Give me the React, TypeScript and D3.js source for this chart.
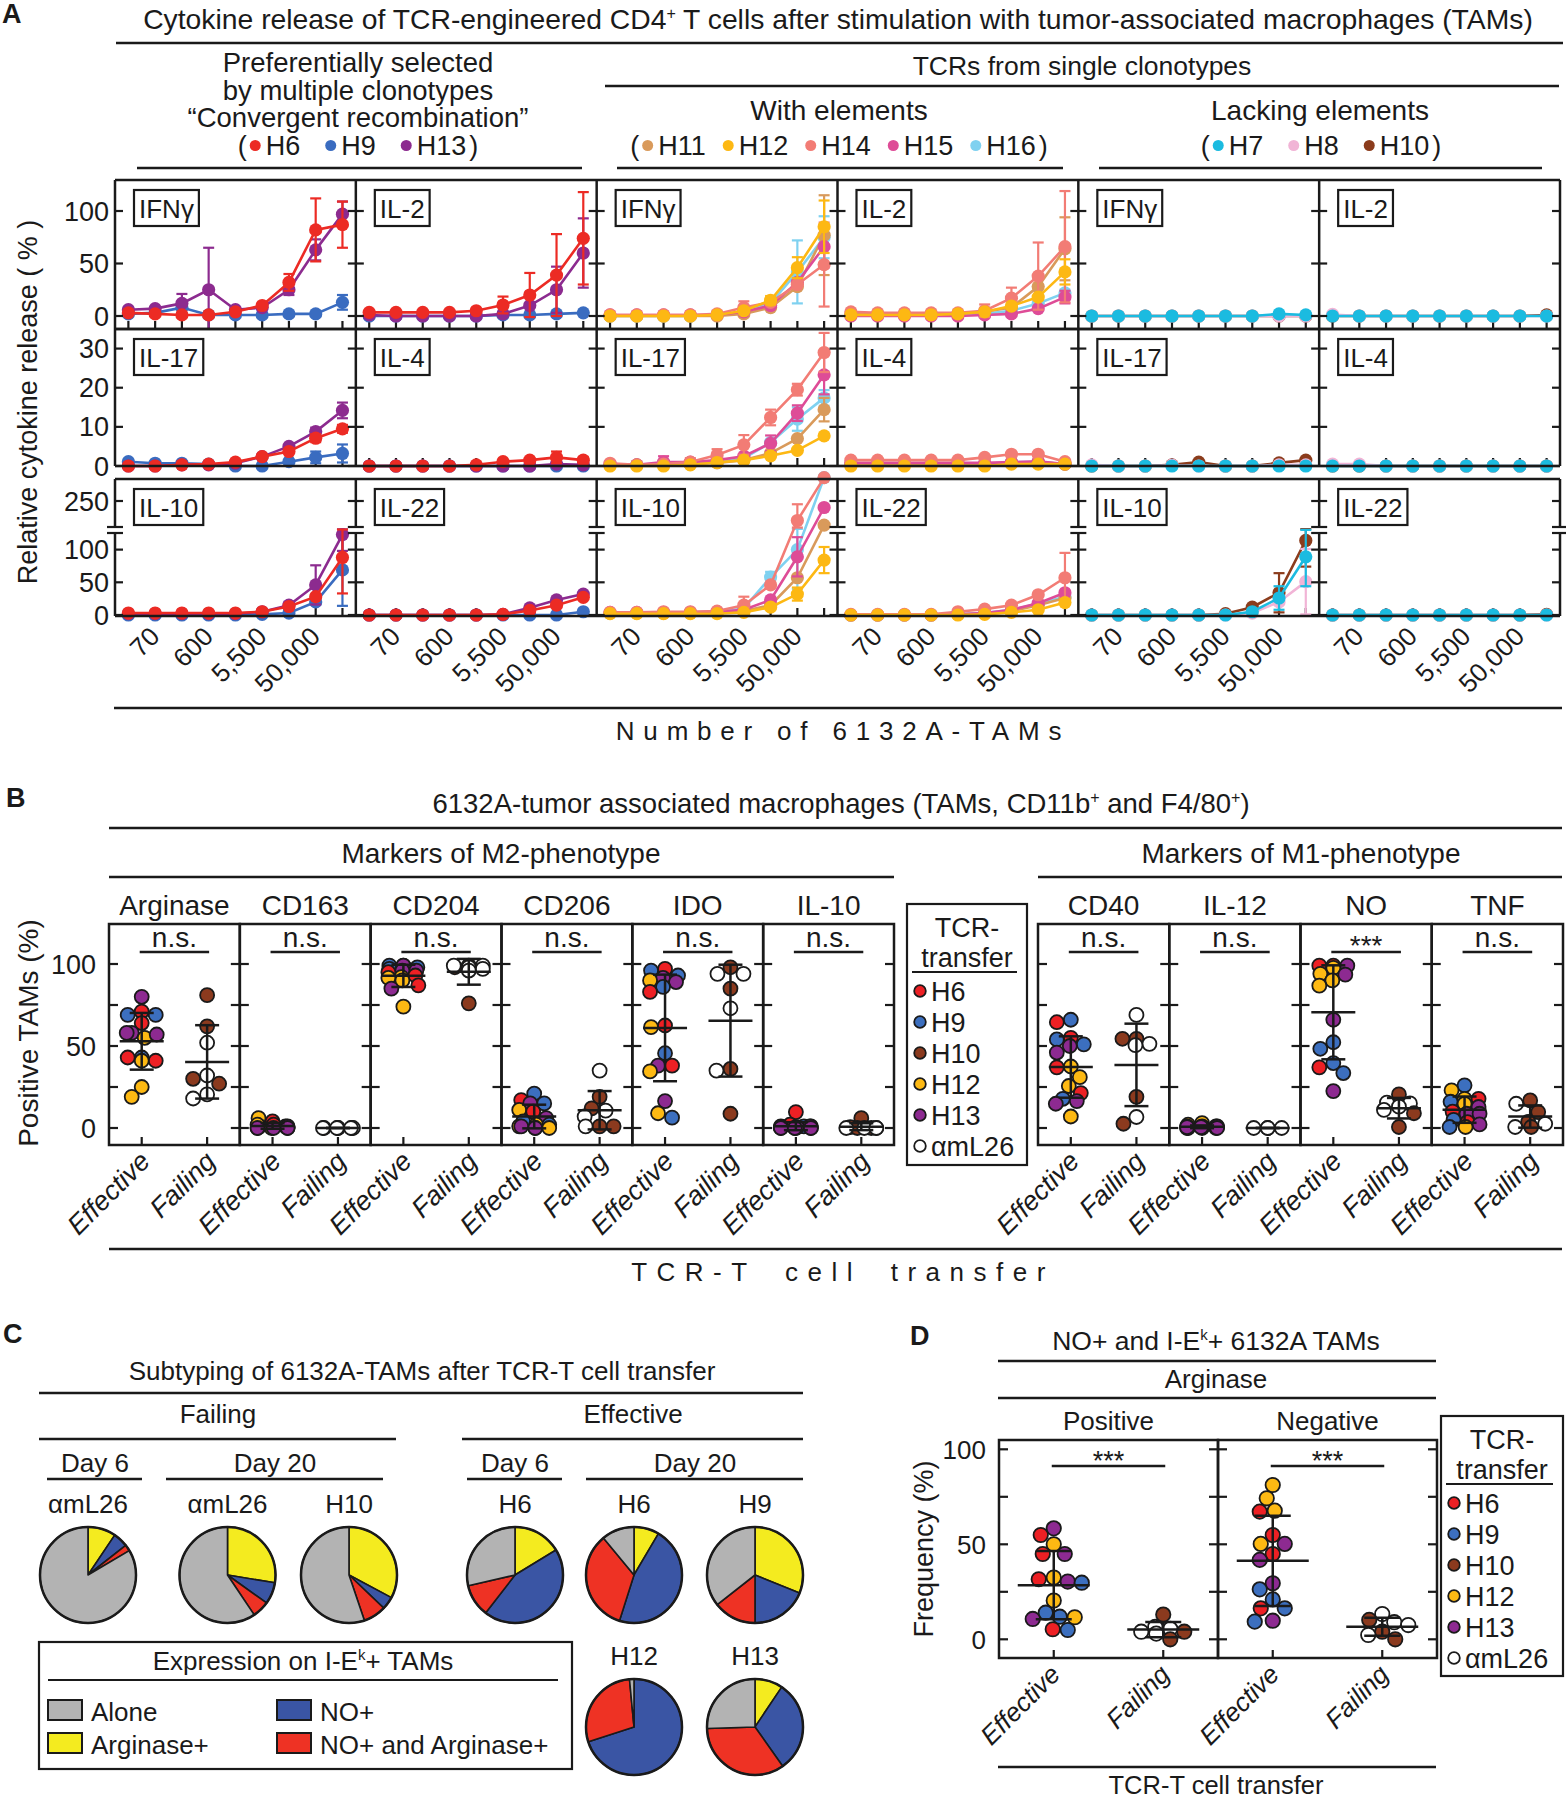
import React from "react";
import * as d3 from "d3";

const FONT = "'Liberation Sans', Arial, Helvetica, sans-serif";
const W = 1566;
const H = 1800;
const INK = "#1a1a1a";

// ---------------- Panel A data ----------------
const A_XLABELS = ["", "70", "", "600", "", "5,500", "", "50,000", ""];
const A_CYTO_ROWS = [["IFNγ", "IL-2"], ["IL-17", "IL-4"], ["IL-10", "IL-22"]];
const A_GROUP_DRAW = [["H9", "H13", "H6"], ["H16", "H11", "H15", "H14", "H12"], ["H10", "H8", "H7"]];
const A_GROUP_LEGEND = [["H6", "H9", "H13"], ["H11", "H12", "H14", "H15", "H16"], ["H7", "H8", "H10"]];
const A_COLORS: Record<string, string> = {
  H6: "#ec2b24", H9: "#3a6cc0", H13: "#8c2b8f",
  H11: "#d99a5b", H12: "#fdb813", H14: "#f27c75", H15: "#de4c97", H16: "#7fd1f0",
  H7: "#1bbbe0", H8: "#f1b4d6", H10: "#8b3c1c",
};

const A_IFNG: Record<string, number[]> = {
  H6: [3, 2, 1, 1, 4, 10, 32, 82, 87],
  H9: [2, 3, 8, 1, 1, 1, 2, 2, 13],
  H13: [6, 7, 12, 25, 6, 8, 25, 63, 97],
  H11: [0, 0, 0, 0, 0, 2, 8, 28, 77],
  H12: [0, 0, 0, 0, 1, 5, 15, 46, 85],
  H14: [1, 1, 1, 1, 2, 8, 13, 30, 49],
  H15: [1, 1, 1, 1, 1, 4, 10, 32, 66],
  H16: [0, 0, 0, 0, 1, 4, 12, 42, 75],
  H7: [0, 0, 0, 0, 0, 0, 0, 2, 1],
  H8: [0, 0, 0, 0, 0, 0, 0, 0, 0],
  H10: [0, 0, 0, 0, 0, 0, 0, 0, 0],
};
const A_IFNG_SD: Record<string, number[]> = {
  H6: [0, 0, 0, 0, 0, 0, 8, 30, 22],
  H9: [0, 0, 0, 0, 0, 0, 0, 0, 7],
  H13: [0, 0, 9, 40, 0, 0, 5, 10, 12],
  H11: [0, 0, 0, 0, 0, 0, 0, 0, 38],
  H12: [0, 0, 0, 0, 0, 0, 4, 10, 25],
  H14: [0, 0, 0, 0, 0, 6, 0, 0, 40],
  H15: [0, 0, 0, 0, 0, 0, 0, 0, 20],
  H16: [0, 0, 0, 0, 0, 0, 0, 30, 20],
};
const A_IL2: Record<string, number[]> = {
  H6: [3.5, 3.5, 3.5, 3.5, 5, 10.5, 20, 39, 74],
  H9: [0, 0, 0, 0, 0, 1, 1, 2, 3],
  H13: [1, 0, 0, 0, 0, 2, 10, 25, 60],
  H11: [2, 2, 2, 2, 2, 4, 8, 28, 64],
  H12: [1, 1, 1, 1, 2, 4, 9.5, 18, 42],
  H14: [4, 3, 3, 3, 3, 5, 17, 38, 66],
  H15: [0, 0, 0, 0, 0, 1, 2, 7, 18],
  H16: [1, 1, 1, 1, 1, 2, 5, 12, 22],
  H7: [0, 0, 0, 0, 0, 0, 0, 0, 0],
  H8: [1.5, 0, 0, 0, 0, 0, 0, 0, 0],
  H10: [0, 0, 0, 0, 0, 0, 0, 0, 1],
};
const A_IL2_SD: Record<string, number[]> = {
  H6: [0, 0, 0, 0, 0, 8, 21, 39, 44],
  H13: [0, 0, 0, 0, 0, 0, 0, 22, 33],
  H11: [0, 0, 0, 0, 0, 0, 0, 10, 30],
  H12: [0, 0, 0, 0, 0, 0, 0, 0, 12],
  H14: [0, 0, 0, 0, 0, 6, 10, 32, 53],
  H15: [0, 0, 0, 0, 0, 0, 0, 0, 6],
};
const A_IL17: Record<string, number[]> = {
  H6: [0, 0, 0.3, 0.5, 1, 2.4, 3.7, 7.1, 9.5],
  H9: [1.1, 0.7, 0.7, 0.5, 0, 0, 1.1, 2.2, 3.2],
  H13: [0, 0, 0.3, 0.3, 0.7, 2.4, 5, 8.8, 14.2],
  H11: [0.3, 0.3, 0.5, 0.5, 0.8, 1.5, 3.3, 7, 14.4],
  H12: [0, 0, 0, 0.3, 0.9, 1.5, 2.6, 4, 7.7],
  H14: [0.7, 0.3, 0.5, 1, 2.8, 5.4, 12.4, 19.5, 29],
  H15: [0.5, 0.3, 1, 1, 1.5, 2.5, 5.8, 13.5, 23.3],
  H16: [0.3, 0.3, 0.5, 0.5, 1, 2, 6, 12, 17.4],
  H7: [0, 0, 0, 0, 0, 0, 0, 0, 0],
  H8: [0.3, 0, 0, 0.2, 0, 0, 0, 0.3, 0.3],
  H10: [0, 0, 0, 0.3, 1, 0, 0, 0.8, 1.5],
};
const A_IL17_SD: Record<string, number[]> = {
  H6: [0, 0, 0, 0, 0, 0, 0, 1, 1],
  H9: [0, 0, 0, 0, 0, 0, 0, 1.5, 2.3],
  H13: [0, 0, 0, 0, 0, 0, 0, 1, 2],
  H11: [0, 0, 0, 0, 0, 0, 0, 0, 3],
  H14: [0, 0, 0, 1, 1.5, 2.5, 2, 1.5, 5],
  H15: [0, 0, 1.5, 0, 0, 0, 2, 2, 5],
  H16: [0, 0, 0, 0, 0, 0, 0, 3, 2],
};
const A_IL4: Record<string, number[]> = {
  H6: [0, 0, 0, 0, 0.3, 1.1, 1.5, 2.2, 1.5],
  H9: [0, 0, 0, 0, 0, 0, 0, 0, 0],
  H13: [0, 0, 0, 0, 0, 0, 0, 0.5, 0.3],
  H11: [0.5, 0.5, 0.5, 0.5, 0.5, 0.5, 0.8, 1, 0.5],
  H12: [0, 0, 0, 0, 0, 0, 0.5, 0.5, 0.5],
  H14: [1.5, 1.5, 1.5, 1.5, 1.5, 2.2, 3, 3, 1.1],
  H15: [0.8, 0.8, 0.8, 0.8, 0.8, 0.8, 1, 1.2, 0.5],
  H16: [0.5, 0.5, 0.5, 0.5, 0.5, 0.5, 1, 1, 0.5],
  H7: [0, 0, 0, 0, 0, 0, 0, 0, 0],
  H8: [0.5, 0.5, 0, 0, 0, 0, 0, 0, 0],
  H10: [0, 0, 0, 0, 0, 0, 0, 0, 0],
};
const A_IL4_SD: Record<string, number[]> = {
  H6: [0, 0, 0, 0, 0, 0, 0, 1.5, 0.8],
};
const A_IL10: Record<string, number[]> = {
  H6: [3, 3, 3, 3, 3, 5, 13, 28, 88],
  H9: [0, 0, 0, 0, 0, 1, 3, 20, 69],
  H13: [2, 2, 2, 2, 2, 5, 15, 46, 123],
  H11: [3, 3, 3, 3, 4, 6, 15, 57, 213],
  H12: [2, 2, 2, 2, 2, 4, 12, 32, 84],
  H14: [4, 4, 5, 5, 6, 15, 46, 220, 290],
  H15: [4, 4, 4, 4, 5, 8, 23, 89, 240],
  H16: [3, 3, 3, 4, 5, 10, 58, 100, 287],
  H7: [0, 0, 0, 0, 0, 0, 5, 26, 89],
  H8: [0, 0, 0, 0, 0, 0, 3, 20, 51],
  H10: [0, 0, 0, 0, 0, 2, 12, 34, 114],
};
const A_IL10_SD: Record<string, number[]> = {
  H6: [0, 0, 0, 0, 0, 0, 0, 0, 55],
  H9: [0, 0, 0, 0, 0, 0, 0, 0, 55],
  H13: [0, 0, 0, 0, 0, 0, 5, 30, 25],
  H12: [0, 0, 0, 0, 0, 0, 0, 10, 20],
  H14: [0, 0, 0, 0, 0, 13, 0, 25, 0],
  H15: [0, 0, 0, 0, 0, 0, 0, 30, 0],
  H16: [0, 0, 0, 0, 0, 0, 8, 60, 0],
  H7: [0, 0, 0, 0, 0, 0, 0, 18, 45],
  H8: [0, 0, 0, 0, 0, 0, 0, 0, 50],
  H10: [0, 0, 0, 0, 0, 0, 0, 30, 40],
};
const A_IL22: Record<string, number[]> = {
  H6: [0, 0, 0, 0, 0, 1, 7, 15, 27],
  H9: [0, 0, 0, 0, 0, 0, 0, 0, 5],
  H13: [0, 0, 0, 0, 0, 1, 11, 23, 32],
  H11: [0, 0, 0, 0, 1, 2, 6, 15, 26],
  H12: [0, 0, 0, 0, 0, 1, 4, 8, 19],
  H14: [1, 1, 1, 1, 5, 9, 15, 31, 57],
  H15: [0, 0, 0, 0, 1, 3, 8, 18, 34],
  H16: [0, 0, 0, 0, 1, 3, 8, 17, 28],
  H7: [0, 0, 0, 0, 0, 0, 0, 0, 0],
  H8: [0, 0, 0, 0, 0, 0, 0, 0, 0],
  H10: [0, 0, 0, 0, 0, 0, 0, 0, 1],
};
const A_IL22_SD: Record<string, number[]> = {
  H14: [0, 0, 0, 0, 0, 0, 0, 0, 38],
};
const A_DATA: Record<string, { v: Record<string, number[]>; sd: Record<string, number[]> }> = {
  "IFNγ": { v: A_IFNG, sd: A_IFNG_SD },
  "IL-2": { v: A_IL2, sd: A_IL2_SD },
  "IL-17": { v: A_IL17, sd: A_IL17_SD },
  "IL-4": { v: A_IL4, sd: A_IL4_SD },
  "IL-10": { v: A_IL10, sd: A_IL10_SD },
  "IL-22": { v: A_IL22, sd: A_IL22_SD },
};

// ---------------- Panel B / D data ----------------
const BD_COLORS: Record<string, string> = {
  H6: "#ed2024", H9: "#3c6fbf", H10: "#8b3a1e", H12: "#fdb913", H13: "#8d2a91", aml: "#ffffff",
};
const BD_LEGEND = [["H6", "H6"], ["H9", "H9"], ["H10", "H10"], ["H12", "H12"], ["H13", "H13"], ["aml", "αmL26"]];
const B_CATS = ["Effective", "Failing"];
const B_M2 = ["Arginase", "CD163", "CD204", "CD206", "IDO", "IL-10"];
const B_M1 = ["CD40", "IL-12", "NO", "TNF"];
const B_SIG: Record<string, string> = {
  Arginase: "n.s.", CD163: "n.s.", CD204: "n.s.", CD206: "n.s.", IDO: "n.s.", "IL-10": "n.s.",
  CD40: "n.s.", "IL-12": "n.s.", NO: "***", TNF: "n.s.",
};
type Pt = [string, number];
const B_EFF: Record<string, Pt[]> = {
  Arginase: [["H13", 80], ["H6", 71], ["H9", 69], ["H9", 69], ["H6", 64], ["H13", 58], ["H12", 55], ["H13", 57], ["H13", 58], ["H9", 43], ["H6", 43], ["H6", 41], ["H12", 41], ["H12", 25], ["H12", 19]],
  CD163: [["H6", 4], ["H12", 6], ["H9", 1], ["H6", 1], ["H12", 1], ["H9", 0], ["H6", 0], ["H12", 0], ["H9", 0.5], ["H12", 2], ["H6", 2], ["H13", 1], ["H13", 0], ["H13", 0], ["H13", 0]],
  CD204: [["H13", 99], ["H9", 99], ["H9", 98], ["H13", 99], ["H9", 97], ["H13", 96], ["H13", 96], ["H6", 95], ["H6", 93], ["H12", 92], ["H12", 91.5], ["H12", 90], ["H6", 87], ["H13", 85], ["H12", 74]],
  CD206: [["H9", 21], ["H6", 17], ["H9", 15], ["H13", 15], ["H12", 11], ["H6", 10], ["H13", 6], ["H9", 4], ["H12", 2], ["H9", 2], ["H12", 1], ["H6", 0], ["H12", 0], ["H13", 1], ["H13", 0]],
  IDO: [["H6", 97], ["H9", 96], ["H9", 93], ["H13", 91.5], ["H12", 90], ["H13", 89], ["H9", 86], ["H6", 83], ["H6", 62.5], ["H12", 61.5], ["H9", 45.6], ["H13", 38], ["H6", 38], ["H12", 34.5], ["H13", 16.4], ["H12", 9], ["H9", 6.3]],
  "IL-10": [["H6", 9.7], ["H6", 2], ["H9", 1], ["H12", 1], ["H6", 1], ["H9", 0], ["H12", 0], ["H6", 0], ["H9", 0], ["H12", 0.5], ["H13", 1], ["H13", 0.5], ["H13", 0], ["H13", 0], ["H13", 0]],
  CD40: [["H9", 66], ["H6", 64.5], ["H6", 55], ["H9", 54], ["H9", 51], ["H13", 50], ["H13", 46], ["H12", 37.5], ["H6", 37], ["H12", 31], ["H12", 25.6], ["H6", 21.3], ["H9", 17.8], ["H13", 16.4], ["H13", 14.8], ["H12", 7]],
  "IL-12": [["H12", 3], ["H12", 2], ["H6", 1], ["H9", 1], ["H12", 1], ["H6", 0.5], ["H9", 0.5], ["H6", 0], ["H9", 0], ["H12", 0], ["H9", 0], ["H13", 1], ["H13", 0.5], ["H13", 0.5], ["H13", 0]],
  NO: [["H6", 99], ["H6", 99], ["H13", 99], ["H12", 97.6], ["H12", 94], ["H13", 93.5], ["H12", 90], ["H12", 86.8], ["H13", 66], ["H9", 52.3], ["H9", 48.3], ["H9", 39.6], ["H6", 37], ["H9", 33.5], ["H13", 22.5]],
  TNF: [["H9", 26], ["H12", 23], ["H12", 17.8], ["H6", 17.8], ["H9", 16], ["H12", 14.8], ["H13", 12.8], ["H6", 10], ["H13", 8.7], ["H13", 8.7], ["H9", 5], ["H6", 3.6], ["H13", 2.2], ["H9", 0.6], ["H12", 0.6]],
};
const B_FAIL: Record<string, Pt[]> = {
  Arginase: [["H10", 81], ["H10", 62], ["aml", 52], ["aml", 32], ["H10", 30], ["H10", 27], ["aml", 20.5], ["aml", 18]],
  CD163: [["H10", 0], ["H10", 0], ["H10", 0], ["H10", 0], ["aml", 0], ["aml", 0], ["aml", 0], ["aml", 0]],
  CD204: [["H10", 99], ["H10", 98], ["aml", 99], ["aml", 98], ["aml", 97], ["aml", 99], ["aml", 96], ["H10", 76]],
  CD206: [["aml", 35], ["H10", 19], ["H10", 12], ["aml", 10.6], ["aml", 7], ["H10", 1], ["H10", 1], ["aml", 1]],
  IDO: [["H10", 98], ["aml", 94], ["aml", 94], ["H10", 85], ["aml", 73], ["H10", 36], ["aml", 35], ["H10", 8.7]],
  "IL-10": [["H10", 6], ["H10", 0.5], ["H10", 0], ["H10", 0], ["aml", 0], ["aml", 0], ["aml", 0], ["aml", 0]],
  CD40: [["aml", 69], ["H10", 54.4], ["H10", 54.4], ["aml", 51.3], ["aml", 50.5], ["H10", 19], ["aml", 6.7], ["H10", 2.6]],
  "IL-12": [["aml", 0], ["aml", 0], ["aml", 0], ["aml", 0]],
  NO: [["H10", 20.5], ["aml", 15.5], ["aml", 15], ["aml", 13], ["aml", 11], ["H10", 9], ["H10", 0.6]],
  TNF: [["H10", 16.8], ["aml", 14.8], ["H10", 9.7], ["H10", 3.7], ["aml", 2.6], ["aml", 0.6], ["H10", 0.6]],
};
const D_PANELS = ["Positive", "Negative"];
const D_EFF: Record<string, Pt[]> = {
  Positive: [["H13", 58.4], ["H6", 54.9], ["H12", 50], ["H6", 44.9], ["H13", 44.9], ["H12", 32.5], ["H6", 31.6], ["H13", 30.4], ["H9", 29.8], ["H12", 20.4], ["H9", 14], ["H9", 11.9], ["H12", 11.6], ["H13", 10.7], ["H6", 5.3], ["H9", 4.9]],
  Negative: [["H12", 81.2], ["H12", 74.2], ["H12", 67.7], ["H6", 67.2], ["H6", 54.9], ["H12", 50.2], ["H13", 50.2], ["H6", 44.9], ["H13", 41.8], ["H13", 29.5], ["H9", 26.3], ["H9", 21], ["H6", 16.3], ["H9", 16.3], ["H13", 9.8], ["H9", 9.3]],
};
const D_FAIL: Record<string, Pt[]> = {
  Positive: [["H10", 13], ["aml", 6.5], ["aml", 5.5], ["H10", 4], ["aml", 4], ["aml", 3], ["H10", 0]],
  Negative: [["aml", 13.3], ["H10", 10.2], ["aml", 9], ["aml", 7.5], ["H10", 4], ["aml", 2.3], ["H10", 0]],
};

// ---------------- Panel C data ----------------
const C_SLICES = ["Arginase+", "NO+", "NO+ and Arginase+", "Alone"];
const C_COLORS = ["#f4eb1f", "#3a55a4", "#ee3224", "#b3b3b3"];
const C_PIE_LABELS = ["αmL26", "αmL26", "H10", "H6", "H6", "H9", "H12", "H13"];
const C_PIE_VALUES = [
  [9.4, 5, 2.1, 83.5],
  [27.6, 7.3, 5.7, 59.4],
  [32.8, 4.3, 7.7, 55.2],
  [16.3, 44.2, 10.9, 28.6],
  [8.5, 46.4, 34.1, 11],
  [31.1, 18.9, 14.4, 35.6],
  [0, 70, 28.5, 1.5],
  [9.4, 30.8, 34.3, 25.5],
];

// ---------------- helpers ----------------
const mcanvas = typeof document !== "undefined" ? document.createElement("canvas") : null;
const mctx = mcanvas ? mcanvas.getContext("2d") : null;
function textW(s: string, size: number, style = "") {
  if (!mctx) return s.length * size * 0.55;
  mctx.font = `${style} ${size}px ${FONT}`;
  return mctx.measureText(s).width;
}

function Ln({ x1, y1, x2, y2, w = 2.5, c = INK }: any) {
  return <line x1={x1} y1={y1} x2={x2} y2={y2} stroke={c} strokeWidth={w} />;
}
function Tx({ x, y, children, size = 26, anchor = "middle", ...rest }: any) {
  return (
    <text x={x} y={y} fontSize={size} textAnchor={anchor} fill={INK} {...rest}>
      {children}
    </text>
  );
}

function swarm(vals: number[], y: (v: number) => number, cx: number, r: number, maxOff: number) {
  const placed: { x: number; y: number }[] = [];
  return vals.map((v) => {
    const yy = y(v);
    let best = 0;
    let bestScore = Infinity;
    for (let off = -maxOff; off <= maxOff + 1e-9; off += 1) {
      let pen = 0;
      for (const p of placed) {
        const d = Math.hypot(p.x - (cx + off), p.y - yy);
        if (d < 2 * r) pen += 2 * r - d;
      }
      const score = pen * 4 + Math.abs(off) * 0.6;
      if (score < bestScore) {
        bestScore = score;
        best = off;
      }
    }
    placed.push({ x: cx + best, y: yy });
    return cx + best;
  });
}

function LegendRow({ cx, y, clones, gap }: any) {
  const fs = 27;
  const wo = textW("(", fs);
  const wc = textW(")", fs);
  const items = clones.map((c: string) => ({ c, w: textW(c, fs) }));
  const dotD = 11;
  const dg = 5;
  const pad = 3;
  const total = wo + pad + items.reduce((s: number, it: any) => s + dotD + dg + it.w, 0) + gap * (items.length - 1) + pad + wc;
  let x = cx - total / 2;
  const els: any[] = [];
  els.push(<Tx key="o" x={x} y={y} size={fs} anchor="start">(</Tx>);
  x += wo + pad;
  items.forEach((it: any, i: number) => {
    els.push(<circle key={"d" + i} cx={x + dotD / 2} cy={y - 9.5} r={5.5} fill={A_COLORS[it.c]} />);
    x += dotD + dg;
    els.push(<Tx key={"t" + i} x={x} y={y} size={fs} anchor="start">{it.c}</Tx>);
    x += it.w + (i < items.length - 1 ? gap : 0);
  });
  x += pad;
  els.push(<Tx key="c" x={x} y={y} size={fs} anchor="start">)</Tx>);
  return <g>{els}</g>;
}

// ---------------- Panel A ----------------
function PanelA() {
  const aLeft = 115;
  const aRight = 1560;
  const colW = (aRight - aLeft) / 6;
  const rowTop = [180, 329, 479];
  const rowBot = [329, 466, 616];
  const yS = [
    d3.scaleLinear().domain([0, 100]).range([316, 211]),
    d3.scaleLinear().domain([0, 35]).range([466, 329]),
    d3.scaleLinear().domain([0, 130, 210, 290]).range([615, 530, 527, 475]),
  ];
  const yMax = [130, 35, 286];
  const yTicks = [[0, 50, 100], [0, 10, 20, 30], [0, 50, 100, 250]];
  const breakY = [527, 533];
  const els: any[] = [];
  let k = 0;
  const key = () => "a" + k++;

  for (let r = 0; r < 3; r++) {
    const ys = yS[r];
    for (let c = 0; c < 6; c++) {
      const x0 = aLeft + c * colW;
      const xs = d3.scalePoint<number>().domain(d3.range(9)).range([x0, x0 + colW]).padding(0.5);
      const g = Math.floor(c / 2);
      const cyt = A_CYTO_ROWS[r][c % 2];
      const data = A_DATA[cyt];
      d3.range(9).forEach((i) => {
        els.push(<Ln key={key()} x1={xs(i)} x2={xs(i)} y1={rowBot[r]} y2={rowBot[r] - 8} w={2.2} />);
      });
      A_GROUP_DRAW[g].forEach((cl) => {
        const vals = data.v[cl];
        const sds = data.sd[cl] || [];
        const col = A_COLORS[cl];
        const yv = (v: number) => ys(Math.min(v, yMax[r]));
        const line = d3.line<number>().x((_, i) => xs(i) as number).y((v) => yv(v));
        els.push(<path key={key()} d={line(vals) || ""} fill="none" stroke={col} strokeWidth={2.6} />);
        vals.forEach((v, i) => {
          const e = sds[i] || 0;
          if (e > 0) {
            const x = xs(i) as number;
            const yTopRaw = ys(v + e);
            const yBotRaw = ys(v - e);
            const yT = Math.max(yTopRaw, rowTop[r]);
            const yB = Math.min(yBotRaw, rowBot[r]);
            els.push(<Ln key={key()} x1={x} x2={x} y1={yT} y2={yB} c={col} w={2.2} />);
            if (yTopRaw >= rowTop[r]) els.push(<Ln key={key()} x1={x - 5.5} x2={x + 5.5} y1={yT} y2={yT} c={col} w={2.2} />);
            if (yBotRaw <= rowBot[r]) els.push(<Ln key={key()} x1={x - 5.5} x2={x + 5.5} y1={yB} y2={yB} c={col} w={2.2} />);
          }
        });
        vals.forEach((v, i) => {
          els.push(<circle key={key()} cx={xs(i)} cy={yv(v)} r={6.6} fill={col} />);
        });
      });
      const bw = textW(cyt, 26) + 10;
      els.push(<rect key={key()} x={x0 + 19} y={rowTop[r] + 10} width={bw} height={36} fill="#fff" stroke={INK} strokeWidth={2.2} />);
      els.push(<Tx key={key()} x={x0 + 19 + 5} y={rowTop[r] + 37.5} size={26} anchor="start">{cyt}</Tx>);
      if (r === 2) {
        A_XLABELS.forEach((lab, i) => {
          if (!lab) return;
          const x = (xs(i) as number) + 6;
          els.push(
            <Tx key={key()} x={0} y={0} size={26} anchor="end" transform={`translate(${x},638) rotate(-45)`}>{lab}</Tx>
          );
        });
      }
    }
    els.push(<Ln key={key()} x1={aLeft} x2={aRight} y1={rowTop[r]} y2={rowTop[r]} />);
    els.push(<Ln key={key()} x1={aLeft} x2={aRight} y1={rowBot[r]} y2={rowBot[r]} />);
    for (let i = 0; i <= 6; i++) {
      const x = aLeft + i * colW;
      if (r === 2) {
        els.push(<Ln key={key()} x1={x} x2={x} y1={rowTop[r]} y2={breakY[0]} />);
        els.push(<Ln key={key()} x1={x} x2={x} y1={breakY[1]} y2={rowBot[r]} />);
        breakY.forEach((by) => els.push(<Ln key={key()} x1={x - 8} x2={x + 8} y1={by} y2={by} w={2.2} />));
      } else {
        els.push(<Ln key={key()} x1={x} x2={x} y1={rowTop[r]} y2={rowBot[r]} />);
      }
      yTicks[r].forEach((t) => {
        const y = ys(t);
        const xa = i === 0 ? x : x - 8;
        const xb = i === 6 ? x : x + 8;
        els.push(<Ln key={key()} x1={xa} x2={xb} y1={y} y2={y} w={2.2} />);
      });
    }
    yTicks[r].forEach((t) => {
      els.push(<Tx key={key()} x={109} y={ys(t) + 9.5} size={27} anchor="end">{t}</Tx>);
    });
  }

  return (
    <g>
      <Tx x={2} y={23} size={27} anchor="start" fontWeight="bold">A</Tx>
      <Tx x={838} y={29} size={28.3}>
        Cytokine release of TCR-engineered CD4
        <tspan dy={-10} fontSize={16}>+</tspan>
        <tspan dy={10}> T cells after stimulation with tumor-associated macrophages (TAMs)</tspan>
      </Tx>
      <Ln x1={116} x2={1563} y1={43} y2={43} />
      <Tx x={358} y={72} size={27.5}>Preferentially selected</Tx>
      <Tx x={358} y={99.5} size={27.5}>by multiple clonotypes</Tx>
      <Tx x={358} y={127} size={27.5}>“Convergent recombination”</Tx>
      <LegendRow cx={358} y={155} clones={A_GROUP_LEGEND[0]} gap={25} />
      <Ln x1={137} x2={582} y1={168} y2={168} />
      <Tx x={1082} y={75} size={26.5}>TCRs from single clonotypes</Tx>
      <Ln x1={605} x2={1559} y1={86} y2={86} />
      <Tx x={839} y={120} size={28}>With elements</Tx>
      <LegendRow cx={839} y={155} clones={A_GROUP_LEGEND[1]} gap={17} />
      <Ln x1={617} x2={1063} y1={168} y2={168} />
      <Tx x={1320} y={120} size={28}>Lacking elements</Tx>
      <LegendRow cx={1321} y={155} clones={A_GROUP_LEGEND[2]} gap={25} />
      <Ln x1={1099} x2={1542} y1={168} y2={168} />
      {els}
      <Tx x={0} y={0} size={27} transform="translate(37,402) rotate(-90)">Relative cytokine release ( % )</Tx>
      <Ln x1={114} x2={1562} y1={708} y2={708} />
      <Tx x={843} y={740} size={26} letterSpacing={8.8}>Number of 6132A-TAMs</Tx>
    </g>
  );
}

// ---------------- dot plot panel (B and D) ----------------
function DotPanel({ x0, width, top, bottom, ys, eff, fail, sig, sigLineY, sigTextY, showLabels, r, maxOff, meanHalf, capHalf, labelY, labelDx, fs }: any) {
  const xs = d3.scalePoint<string>().domain(B_CATS).range([x0, x0 + width]).padding(0.5);
  const els: any[] = [];
  let k = 0;
  const key = () => "p" + k++;
  els.push(<rect key={key()} x={x0} y={top} width={width} height={bottom - top} fill="none" stroke={INK} strokeWidth={2.5} />);
  [0, 25, 50, 75, 100].forEach((t) => {
    const y = ys(t);
    els.push(<Ln key={key()} x1={x0} x2={x0 + 9} y1={y} y2={y} w={2.2} />);
    els.push(<Ln key={key()} x1={x0 + width - 9} x2={x0 + width} y1={y} y2={y} w={2.2} />);
    if (showLabels && t % 50 === 0) els.push(<Tx key={key()} x={x0 - 13} y={y + 9.5} size={fs} anchor="end">{t}</Tx>);
  });
  B_CATS.forEach((cat) => {
    const x = xs(cat) as number;
    els.push(<Ln key={key()} x1={x} x2={x} y1={bottom} y2={bottom - 8} w={2.2} />);
    els.push(
      <Tx key={key()} x={0} y={0} size={fs} anchor="end" fontStyle="italic" transform={`translate(${x + labelDx},${labelY}) rotate(-45)`}>{cat}</Tx>
    );
  });
  const xe = xs("Effective") as number;
  const xf = xs("Failing") as number;
  els.push(<Ln key={key()} x1={xe - 2} x2={xf + 2} y1={sigLineY} y2={sigLineY} w={2.5} />);
  els.push(<Tx key={key()} x={(xe + xf) / 2} y={sig === "***" ? sigTextY + 8 : sigTextY} size={fs + 1}>{sig}</Tx>);
  [[eff, xe], [fail, xf]].forEach(([pts, cx]: any) => {
    const vals = pts.map((p: Pt) => p[1]);
    const px = swarm(vals, ys, cx, r, maxOff);
    pts.forEach((p: Pt, i: number) => {
      els.push(<circle key={key()} cx={px[i]} cy={ys(p[1])} r={r} fill={BD_COLORS[p[0]]} stroke={INK} strokeWidth={1.8} />);
    });
    const m = d3.mean(vals) as number;
    const sd = (d3.deviation(vals) as number) || 0;
    const yT = ys(m + sd);
    const yB = ys(Math.max(m - sd, -5));
    els.push(<Ln key={key()} x1={cx} x2={cx} y1={yT} y2={yB} w={2.5} />);
    els.push(<Ln key={key()} x1={cx - capHalf} x2={cx + capHalf} y1={yT} y2={yT} w={2.5} />);
    if (m - sd > -5) els.push(<Ln key={key()} x1={cx - capHalf} x2={cx + capHalf} y1={yB} y2={yB} w={2.5} />);
    els.push(<Ln key={key()} x1={cx - meanHalf} x2={cx + meanHalf} y1={ys(m)} y2={ys(m)} w={2.5} />);
  });
  return <g>{els}</g>;
}

function CloneLegend({ x, y, w, h, fs }: any) {
  return (
    <g>
      <rect x={x} y={y} width={w} height={h} fill="#fff" stroke={INK} strokeWidth={2.2} />
      <Tx x={x + w / 2} y={y + 33} size={fs}>TCR-</Tx>
      <Tx x={x + w / 2} y={y + 63} size={fs}>transfer</Tx>
      <Ln x1={x + 5} x2={x + w - 10} y1={y + 68} y2={y + 68} w={2.2} />
      {BD_LEGEND.map(([c, lab], i) => (
        <g key={c}>
          <circle cx={x + 13} cy={y + 87 + i * 31} r={5.8} fill={BD_COLORS[c]} stroke={INK} strokeWidth={1.8} />
          <Tx x={x + 24} y={y + 96.5 + i * 31} size={fs} anchor="start">{lab}</Tx>
        </g>
      ))}
    </g>
  );
}

function PanelB() {
  const top = 924;
  const bottom = 1145;
  const ys = d3.scaleLinear().domain([0, 100]).range([1128, 964]);
  const m2x = d3.scaleBand<string>().domain(B_M2).range([109, 894]);
  const m1x = d3.scaleBand<string>().domain(B_M1).range([1038, 1563]);
  const common = { top, bottom, ys, r: 7, maxOff: 15, meanHalf: 22, capHalf: 12, sigLineY: 952, sigTextY: 947, labelY: 1163, labelDx: 10, fs: 27 };
  return (
    <g>
      <Tx x={6} y={807} size={27} anchor="start" fontWeight="bold">B</Tx>
      <Tx x={841} y={813} size={27.5}>
        6132A-tumor associated macrophages (TAMs, CD11b
        <tspan dy={-10} fontSize={16}>+</tspan>
        <tspan dy={10}> and F4/80</tspan>
        <tspan dy={-10} fontSize={16}>+</tspan>
        <tspan dy={10}>)</tspan>
      </Tx>
      <Ln x1={109} x2={1562} y1={828} y2={828} />
      <Tx x={501} y={863} size={28}>Markers of M2-phenotype</Tx>
      <Ln x1={109} x2={894} y1={877} y2={877} />
      <Tx x={1301} y={863} size={28}>Markers of M1-phenotype</Tx>
      <Ln x1={1038} x2={1562} y1={877} y2={877} />
      {B_M2.map((m, i) => (
        <g key={m}>
          <Tx x={(m2x(m) as number) + m2x.bandwidth() / 2} y={915} size={28}>{m}</Tx>
          <DotPanel {...common} x0={m2x(m)} width={m2x.bandwidth()} eff={B_EFF[m]} fail={B_FAIL[m]} sig={B_SIG[m]} showLabels={i === 0} />
        </g>
      ))}
      {B_M1.map((m) => (
        <g key={m}>
          <Tx x={(m1x(m) as number) + m1x.bandwidth() / 2} y={915} size={28}>{m}</Tx>
          <DotPanel {...common} x0={m1x(m)} width={m1x.bandwidth()} eff={B_EFF[m]} fail={B_FAIL[m]} sig={B_SIG[m]} showLabels={false} />
        </g>
      ))}
      <CloneLegend x={907} y={904} w={120} h={261} fs={27} />
      <Tx x={0} y={0} size={28} transform="translate(38,1033) rotate(-90)">Positive TAMs (%)</Tx>
      <Ln x1={109} x2={1562} y1={1249} y2={1249} />
      <Tx x={843} y={1281} size={26} letterSpacing={9.5} wordSpacing={12}>TCR-T cell transfer</Tx>
    </g>
  );
}

// ---------------- Panel C ----------------
function PanelC() {
  const pie = d3.pie<number>().sort(null).value((d) => d);
  const arc = d3.arc<d3.PieArcDatum<number>>().innerRadius(0).outerRadius(48);
  const pos: [number, number][] = [[88, 1575], [227.5, 1575], [349, 1575], [515, 1575], [634, 1575], [755, 1575], [634, 1727], [755, 1727]];
  const legendItems: [number, number, number][] = [[3, 48, 1700], [0, 48, 1733], [1, 277, 1700], [2, 277, 1733]];
  return (
    <g>
      <Tx x={3} y={1343} size={27} anchor="start" fontWeight="bold">C</Tx>
      <Tx x={422} y={1380}>Subtyping of 6132A-TAMs after TCR-T cell transfer</Tx>
      <Ln x1={39} x2={803} y1={1393} y2={1393} />
      <Tx x={218} y={1423}>Failing</Tx>
      <Ln x1={39} x2={396} y1={1439} y2={1439} />
      <Tx x={633} y={1423}>Effective</Tx>
      <Ln x1={462} x2={803} y1={1439} y2={1439} />
      <Tx x={95} y={1472}>Day 6</Tx>
      <Ln x1={47} x2={142} y1={1479} y2={1479} />
      <Tx x={275} y={1472}>Day 20</Tx>
      <Ln x1={166} x2={383} y1={1479} y2={1479} />
      <Tx x={515} y={1472}>Day 6</Tx>
      <Ln x1={467} x2={562} y1={1479} y2={1479} />
      <Tx x={695} y={1472}>Day 20</Tx>
      <Ln x1={586} x2={803} y1={1479} y2={1479} />
      {C_PIE_VALUES.map((vals, i) => {
        const [cx, cy] = pos[i];
        const arcs = pie(vals);
        return (
          <g key={i}>
            <Tx x={cx} y={cy - 62}>{C_PIE_LABELS[i]}</Tx>
            <g transform={`translate(${cx},${cy})`}>
              {arcs.map((a, j) => (
                <path key={j} d={arc(a) || ""} fill={C_COLORS[j]} stroke={INK} strokeWidth={a.data > 0 ? 1.6 : 0} strokeLinejoin="round" />
              ))}
              <circle r={48} fill="none" stroke={INK} strokeWidth={2.5} />
            </g>
          </g>
        );
      })}
      <rect x={39} y={1642} width={533} height={127} fill="#fff" stroke={INK} strokeWidth={2.2} />
      <Tx x={303} y={1670}>
        Expression on I-E
        <tspan dy={-10} fontSize={15}>k</tspan>
        <tspan dy={10}>+ TAMs</tspan>
      </Tx>
      <Ln x1={48} x2={558} y1={1680} y2={1680} w={2.2} />
      {legendItems.map(([idx, x, y]) => (
        <g key={idx}>
          <rect x={x} y={y} width={34} height={20} fill={C_COLORS[idx]} stroke={INK} strokeWidth={2} />
          <Tx x={x + 43} y={y + 21} anchor="start">{C_SLICES[idx]}</Tx>
        </g>
      ))}
    </g>
  );
}

// ---------------- Panel D ----------------
function PanelD() {
  const top = 1440;
  const bottom = 1658;
  const ys = d3.scaleLinear().domain([0, 100]).range([1639.3, 1449.3]);
  const dx = d3.scaleBand<string>().domain(D_PANELS).range([999, 1437]);
  return (
    <g>
      <Tx x={910} y={1345} size={27} anchor="start" fontWeight="bold">D</Tx>
      <Tx x={1216} y={1350} size={26.5}>
        NO+ and I-E
        <tspan dy={-10} fontSize={15}>k</tspan>
        <tspan dy={10}>+ 6132A TAMs</tspan>
      </Tx>
      <Ln x1={998} x2={1436} y1={1361} y2={1361} />
      <Tx x={1216} y={1388}>Arginase</Tx>
      <Ln x1={998} x2={1436} y1={1398} y2={1398} />
      {D_PANELS.map((p, i) => (
        <g key={p}>
          <Tx x={(dx(p) as number) + dx.bandwidth() / 2} y={1430}>{p}</Tx>
          <DotPanel x0={dx(p)} width={dx.bandwidth()} top={top} bottom={bottom} ys={ys} eff={D_EFF[p]} fail={D_FAIL[p]} sig="***" sigLineY={1466} sigTextY={1462} showLabels={i === 0} r={7.2} maxOff={28} meanHalf={36} capHalf={18} labelY={1676} labelDx={8} fs={26} />
        </g>
      ))}
      <CloneLegend x={1441} y={1416} w={122} h={260} fs={27} />
      <Tx x={0} y={0} size={27} transform="translate(933,1549) rotate(-90)">Frequency (%)</Tx>
      <Ln x1={998} x2={1436} y1={1767} y2={1767} />
      <Tx x={1216} y={1794} size={25.5}>TCR-T cell transfer</Tx>
    </g>
  );
}

export default function App() {
  return (
    <svg width={W} height={H} viewBox={`0 0 ${W} ${H}`} style={{ position: "absolute", left: 0, top: 0, background: "#fff" }} fontFamily={FONT}>
      <rect width={W} height={H} fill="#fff" />
      <PanelA />
      <PanelB />
      <PanelC />
      <PanelD />
    </svg>
  );
}
